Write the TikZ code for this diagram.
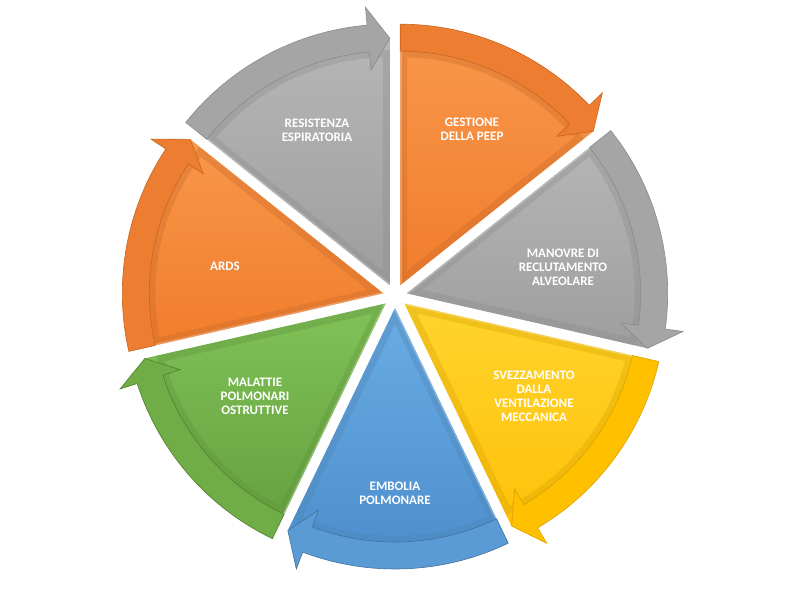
\documentclass[tikz,border=0pt]{standalone}
\usepackage{fontspec}
\setmainfont{Carlito}
\usetikzlibrary{calc}
\definecolor{orB}{HTML}{ED7D31}\definecolor{orT}{HTML}{F9964A}\definecolor{orD}{HTML}{F07D2C}\definecolor{orE}{HTML}{C9651F}
\definecolor{grB}{HTML}{A5A5A5}\definecolor{grT}{HTML}{B6B6B6}\definecolor{grD}{HTML}{9E9E9E}\definecolor{grE}{HTML}{8A8A8A}
\definecolor{yeB}{HTML}{FFC000}\definecolor{yeT}{HTML}{FFD42E}\definecolor{yeD}{HTML}{FFC108}\definecolor{yeE}{HTML}{D9A300}
\definecolor{blB}{HTML}{5B9BD5}\definecolor{blT}{HTML}{6AACE4}\definecolor{blD}{HTML}{4C8ECC}\definecolor{blE}{HTML}{41719C}
\definecolor{gnB}{HTML}{70AD47}\definecolor{gnT}{HTML}{80C258}\definecolor{gnD}{HTML}{65A13E}\definecolor{gnE}{HTML}{507E32}
\tikzset{
  lbl/.style={font=\fontsize{13}{14}\selectfont\bfseries, text=white, align=center, inner sep=0pt},
}
\begin{document}
\begin{tikzpicture}[x=1pt,y=1pt]
\useasboundingbox (-395,-299) rectangle (394,296);
\foreach \k/\band/\ptop/\pbot/\edge in {0/orB/orT/orD/orE,1/grB/grT/grD/grE,2/yeB/yeT/yeD/yeE,3/blB/blT/blD/blE,4/gnB/gnT/gnD/gnE,5/orB/orT/orD/orE,6/grB/grT/grD/grE}{
  \pgfmathsetmacro\sa{90-360*\k/7}
  \pgfmathsetmacro\ea{\sa-360/7}
  \pgfmathsetmacro\ma{\sa-180/7}
  \pgfmathsetmacro\wa{\ea+5}
  \begin{scope}[shift={(\ma:12)}]
    % pie wedge
    \path[top color=\ptop, bottom color=\pbot]
      (0,0) -- (\sa:246) arc[start angle=\sa, end angle=\ea, radius=246] -- cycle;
    % bevel frame
    \begin{scope}
      \clip (0,0) -- (\sa:235) arc[start angle=\sa, end angle=\ea, radius=235] -- (\ea:247) -- cycle;
      \draw[\band!85!black, opacity=0.35, line width=14, line join=round]
        (0,0) -- (\sa:235) arc[start angle=\sa, end angle=\ea, radius=235] -- (\ea:247) -- cycle;
      \draw[white, opacity=0.25, line width=3]
        (0,0) -- (\sa:235);
    \end{scope}
    % circular arrow band
    \filldraw[fill=\band, draw=\edge, line width=0.6, line join=miter]
      (\sa:261) arc[start angle=\sa, end angle=\wa, radius=261]
      -- (\wa:279) -- (\ea:247) -- (\wa:216) -- (\wa:234)
      arc[start angle=\wa, end angle=\sa, radius=234] -- cycle;
  \end{scope}
}
\node[lbl] (t0) at (77,167) {GESTIONE\\DELLA PEEP};
\node[lbl] (t1) at (168,29) {MANOVRE DI\\RECLUTAMENTO\\ALVEOLARE};
\node[lbl] (t2) at (139,-100) {SVEZZAMENTO\\DALLA\\VENTILAZIONE\\MECCANICA};
\node[lbl] (t3) at (0,-197) {EMBOLIA\\POLMONARE};
\node[lbl] (t4) at (-140,-100) {MALATTIE\\POLMONARI\\OSTRUTTIVE};
\node[lbl] (t5) at (-170,30) {ARDS};
\node[lbl] (t6) at (-78,166) {RESISTENZA\\ESPIRATORIA};
\end{tikzpicture}
\end{document}
